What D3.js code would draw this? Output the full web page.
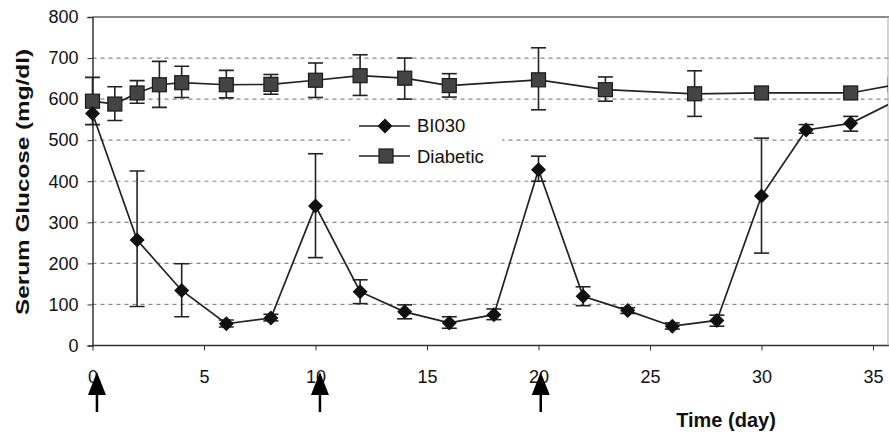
<!DOCTYPE html>
<html>
<head>
<meta charset="utf-8">
<script src="https://cdn.jsdelivr.net/npm/d3@7"></script>
<style>
  body { margin: 0; background: #fff; }
  svg { display: block; font-family: "Liberation Sans", Arial, sans-serif; }
</style>
</head>
<body>
<svg id="chart" width="889" height="439"></svg>
<script>
// BI030 treated group
const biDays  = [0, 2, 4, 6, 8, 10, 12, 14, 16, 18, 20, 22, 24, 26, 28, 30, 32, 34, 36];
const biMean  = [565, 257, 134, 53, 67, 340, 131, 82, 55, 75, 428, 120, 85, 47, 61, 364, 525, 541, 595];
const biLow   = [565, 95, 70, 45, 60, 214, 102, 65, 42, 63, 400, 97, 78, 40, 47, 225, 517, 522, 595];
const biHigh  = [565, 425, 199, 62, 76, 467, 160, 99, 70, 89, 461, 143, 92, 55, 74, 505, 538, 558, 595];

// Diabetic control group
const diaDays = [0, 1, 2, 3, 4, 6, 8, 10, 12, 14, 16, 20, 23, 27, 30, 34, 36];
const diaMean = [595, 588, 615, 635, 640, 635, 636, 646, 657, 651, 633, 647, 623, 613, 615, 615, 635];
const diaLow  = [538, 548, 590, 580, 604, 603, 612, 604, 609, 600, 605, 574, 595, 558, 615, 615, 635];
const diaHigh = [653, 630, 645, 692, 680, 670, 660, 688, 708, 700, 662, 725, 654, 669, 615, 615, 635];

const yTicks = [0, 100, 200, 300, 400, 500, 600, 700, 800];
const xTicks = [0, 5, 10, 15, 20, 25, 30, 35];
const doseDays = [0.2, 10.2, 20.1];

const svg = d3.select("#chart");
const mLeft = 92.5, mRight = 889, mTop = 17, mBottom = 345.5;

const x = d3.scaleLinear().domain([0, 35]).range([mLeft, 873]);
const y = d3.scaleLinear().domain([0, 800]).range([mBottom, mTop]);

svg.append("defs").append("clipPath").attr("id", "plotclip")
  .append("rect").attr("x", mLeft - 10).attr("y", 0).attr("width", mRight - mLeft + 9).attr("height", 439);

// grid
svg.append("g").selectAll("line")
  .data(yTicks.filter(d => d > 0 && d < 800))
  .enter().append("line")
  .attr("x1", mLeft).attr("x2", mRight)
  .attr("y1", d => y(d)).attr("y2", d => y(d))
  .attr("stroke", "#888").attr("stroke-width", 1.2)
  .attr("stroke-dasharray", "4,4");

// top border
svg.append("line").attr("x1", mLeft).attr("x2", mRight)
  .attr("y1", y(800)).attr("y2", y(800))
  .attr("stroke", "#666").attr("stroke-width", 1.6);

// y axis
const yAxis = svg.append("g")
  .attr("transform", `translate(${mLeft},0)`)
  .call(d3.axisLeft(y).tickValues(yTicks).tickSize(5).tickPadding(9));
yAxis.select(".domain").attr("stroke", "#333").attr("stroke-width", 1.5);
yAxis.selectAll(".tick line").attr("stroke", "#333");
yAxis.selectAll("text").attr("font-size", 18).attr("fill", "#111");

// x axis
const xAxis = svg.append("g")
  .attr("transform", `translate(0,${mBottom})`)
  .call(d3.axisBottom(x).tickValues(xTicks).tickSize(5).tickPadding(0).tickSizeOuter(0));
xAxis.select(".domain").attr("stroke", "#333").attr("stroke-width", 1.5)
  .attr("d", `M${mLeft},0H${mRight}`);
xAxis.selectAll(".tick line").attr("stroke", "#333");
xAxis.selectAll("text").attr("font-size", 18).attr("fill", "#111")
  .attr("y", 37).attr("dy", null);

// right border (cut edge)
svg.append("line").attr("x1", mRight - 1).attr("x2", mRight - 1)
  .attr("y1", y(800)).attr("y2", mBottom)
  .attr("stroke", "#aaa").attr("stroke-width", 1);

// legend background
const lg = svg.append("g");
lg.append("rect").attr("x", 350).attr("y", 108).attr("width", 152).attr("height", 66).attr("fill", "#fff");

const plot = svg.append("g").attr("clip-path", "url(#plotclip)");

function drawSeries(days, mean, low, high) {
  const pts = days.map((d, i) => ({ d, m: mean[i], lo: low[i], hi: high[i] }));
  plot.append("path").datum(pts)
    .attr("fill", "none").attr("stroke", "#222").attr("stroke-width", 1.7)
    .attr("d", d3.line().x(p => x(p.d)).y(p => y(p.m)));
  const eb = plot.append("g").selectAll("g")
    .data(pts.filter(p => p.hi > p.m || p.lo < p.m))
    .enter().append("g").attr("stroke", "#222").attr("stroke-width", 1.6);
  eb.append("line").attr("x1", p => x(p.d)).attr("x2", p => x(p.d))
    .attr("y1", p => y(p.lo)).attr("y2", p => y(p.hi));
  eb.append("line").attr("x1", p => x(p.d) - 7.5).attr("x2", p => x(p.d) + 7.5)
    .attr("y1", p => y(p.hi)).attr("y2", p => y(p.hi));
  eb.append("line").attr("x1", p => x(p.d) - 7.5).attr("x2", p => x(p.d) + 7.5)
    .attr("y1", p => y(p.lo)).attr("y2", p => y(p.lo));
  return pts;
}

const diaPts = drawSeries(diaDays, diaMean, diaLow, diaHigh);
plot.append("g").selectAll("rect").data(diaPts).enter().append("rect")
  .attr("x", p => x(p.d) - 7).attr("y", p => y(p.m) - 7)
  .attr("width", 14).attr("height", 14)
  .attr("fill", "#444").attr("stroke", "#1a1a1a").attr("stroke-width", 1.2);

const biPts = drawSeries(biDays, biMean, biLow, biHigh);
const diamond = "M0,-7.5L7.5,0L0,7.5L-7.5,0Z";
plot.append("g").selectAll("path").data(biPts).enter().append("path")
  .attr("transform", p => `translate(${x(p.d)},${y(p.m)})`)
  .attr("d", diamond).attr("fill", "#111");

// legend
lg.append("line").attr("x1", 359).attr("x2", 410).attr("y1", 126).attr("y2", 126)
  .attr("stroke", "#222").attr("stroke-width", 1.7);
lg.append("path").attr("transform", "translate(385,126)")
  .attr("d", diamond).attr("fill", "#111");
lg.append("text").attr("x", 417).attr("y", 132).attr("font-size", 18.5).attr("fill", "#111").text("BI030");
lg.append("line").attr("x1", 359).attr("x2", 410).attr("y1", 156).attr("y2", 156)
  .attr("stroke", "#222").attr("stroke-width", 1.7);
lg.append("rect").attr("x", 379).attr("y", 149).attr("width", 14).attr("height", 14)
  .attr("fill", "#444").attr("stroke", "#1a1a1a").attr("stroke-width", 1.2);
lg.append("text").attr("x", 417).attr("y", 163).attr("font-size", 18.5).attr("fill", "#111").text("Diabetic");

// dosing arrows
const arrows = svg.append("g").selectAll("g").data(doseDays).enter().append("g")
  .attr("transform", d => `translate(${x(d)},0)`);
arrows.append("path").attr("d", "M0,372 L-9,395 L9,395 Z").attr("fill", "#000");
arrows.append("line").attr("x1", 0).attr("x2", 0).attr("y1", 393).attr("y2", 412)
  .attr("stroke", "#000").attr("stroke-width", 2.5);

// axis titles
svg.append("text").attr("x", 726).attr("y", 427).attr("text-anchor", "middle")
  .attr("font-size", 20).attr("font-weight", "bold").attr("fill", "#111").text("Time (day)");
svg.append("text").attr("transform", "translate(29,182) rotate(-90)")
  .attr("text-anchor", "middle").attr("font-size", 19).attr("font-weight", "bold")
  .attr("textLength", 266).attr("lengthAdjust", "spacingAndGlyphs")
  .attr("fill", "#111").text("Serum Glucose (mg/dl)");
</script>
</body>
</html>
